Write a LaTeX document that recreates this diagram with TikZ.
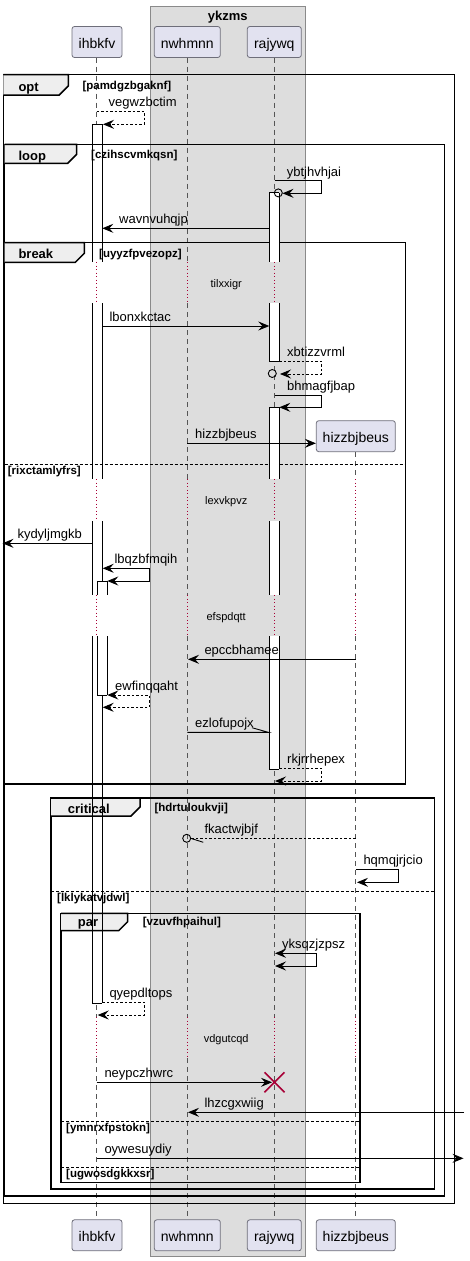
\documentclass[tikz,border=0pt]{standalone}
\usepackage{fontspec}
\setmainfont{Liberation Sans}
\usetikzlibrary{arrows.meta}
\definecolor{partfill}{HTML}{E2E2F0}
\definecolor{partline}{HTML}{6E6E7A}
\definecolor{boxfill}{HTML}{DDDDDD}
\definecolor{boxline}{HTML}{8A8A8A}
\definecolor{lifegray}{HTML}{555555}
\definecolor{delayred}{HTML}{A80036}
\definecolor{tabfill}{HTML}{EEEEEE}

% activation bar pieces: x-left, x-right, y-top, y-bottom
\newcommand\barfillpiece[4]{\fill[white] (#1,#3) rectangle (#2,#4);}
\newcommand\barlinepiece[4]{\draw[barline] (#1,#3) -- (#1,#4) (#2,#3) -- (#2,#4);}
\newcommand\barbothpiece[4]{\barfillpiece{#1}{#2}{#3}{#4}\barlinepiece{#1}{#2}{#3}{#4}}
% horizontal end of an activation bar
\newcommand\barcapline[3]{\draw[barline] (#1,#3) -- (#2,#3);}
\newcommand\skipcap[3]{}
% the long activation of ihbkfv, interrupted by three delays
\newcommand\outerbar{%
  \barpiece{92.3}{102.3}{124.3}{262}
  \barpiece{92.3}{102.3}{303}{479}
  \barpiece{92.3}{102.3}{521}{595}
  \barpiece{92.3}{102.3}{636}{1003}
  \barcap{92.3}{102.3}{124.3}
  \barcap{92.3}{102.3}{1003}}
% group frame: left, top, right, bottom, tab right, tab bottom
\newcommand\grpframe[6]{%
  \draw[frameline] (#1,#2) rectangle (#3,#4);
  \filldraw[frameline, fill=tabfill] (#1,#2) -- (#5,#2) -- (#5,#6-9) -- (#5-9,#6) -- (#1,#6);}
% dashed lifeline, broken by the four delays
\newcommand\lifeline[3]{%
  \draw[life] (#1,#2) -- (#1,262);
  \draw[life] (#1,303) -- (#1,479);
  \draw[life] (#1,521) -- (#1,595);
  \draw[life] (#1,636) -- (#1,1017);
  \draw[life] (#1,1058) -- (#1,#3);}
\newcommand\lifelinelate[3]{%
  \draw[life] (#1,#2) -- (#1,479);
  \draw[life] (#1,521) -- (#1,595);
  \draw[life] (#1,636) -- (#1,1017);
  \draw[life] (#1,1058) -- (#1,#3);}

\begin{document}
\begin{tikzpicture}[x=1pt,y=-1pt,
  frameline/.style={line width=1.5pt, black},
  barline/.style={line width=0.9pt, black},
  life/.style={lifegray, line width=0.8pt, dash pattern=on 5pt off 4pt},
  delayline/.style={delayred, line width=1pt, dash pattern=on 1pt off 2.5pt},
  part/.style={draw=partline, fill=partfill, rounded corners=2.5pt, line width=0.8pt,
    font=\fontsize{14}{16}\selectfont, text height=13.5pt, text depth=1pt,
    inner sep=0pt, minimum height=31pt},
  lbl/.style={anchor=base west, inner sep=0pt, font=\fontsize{13}{15}\selectfont},
  tablbl/.style={anchor=base west, inner sep=0pt, font=\fontsize{13}{15}\selectfont\bfseries},
  cond/.style={anchor=base west, inner sep=0pt, font=\fontsize{11.5}{13}\selectfont\bfseries},
  delaytxt/.style={anchor=base, inner sep=0pt, font=\fontsize{11}{13}\selectfont},
  msg/.style={line width=0.9pt, black},
  ret/.style={msg, dash pattern=on 2.5pt off 2pt},
  arr/.style={-{Stealth[length=11pt,width=9pt,inset=4pt]}},
  arrtwo/.style={{Stealth[length=11pt,width=9pt,inset=4pt]}-{Stealth[length=11pt,width=9pt,inset=4pt]}},
  sep/.style={black, line width=0.9pt, dash pattern=on 3pt off 2pt}
]
\useasboundingbox (0,0) rectangle (469,1261);

% participant box ykzms
\filldraw[fill=boxfill, draw=boxline, line width=0.9pt] (150.3,6) rectangle (305.3,1256);
\node[anchor=base, inner sep=0pt, font=\fontsize{13}{15}\selectfont\bfseries] (boxtitle) at (227.8,20.5) {ykzms};

% lifelines
\lifeline{96.7}{57.5}{1219.3}
\lifeline{187.3}{57.5}{1219.3}
\lifeline{274.5}{57.5}{1219.3}
\lifelinelate{355.7}{452.3}{1219.3}

% delays
\foreach \x in {96.7,187.3,274.5} \draw[delayline] (\x,262) -- (\x,303);
\foreach \x in {96.7,187.3,274.5,355.7} {
  \draw[delayline] (\x,479) -- (\x,521);
  \draw[delayline] (\x,595) -- (\x,636);
  \draw[delayline] (\x,1017) -- (\x,1058);
}
\node[delaytxt] (d1) at (226.2,287) {tilxxigr};
\node[delaytxt] (d2) at (226.2,504.5) {lexvkpvz};
\node[delaytxt] (d3) at (226.2,620) {efspdqtt};
\node[delaytxt] (d4) at (226.2,1042) {vdgutcqd};

% body of the long ihbkfv activation
\let\barpiece\barfillpiece \let\barcap\skipcap
\outerbar

% group frames
\grpframe{3.3}{74.5}{454.3}{1203.3}{68.3}{95}
\grpframe{4.5}{144.3}{444.3}{1196}{76.7}{163.3}
\grpframe{4.5}{242.7}{405.7}{784}{84.3}{262.3}
\draw[sep] (4.5,464.3) -- (405.7,464.3);
\grpframe{51}{798}{434.7}{1189}{140}{816}
\draw[sep] (51,891) -- (434.7,891);
\grpframe{61}{913.3}{360}{1182.7}{127.7}{930.7}
\draw[sep] (61,1121.7) -- (360,1121.7);
\draw[sep] (61,1167.3) -- (360,1167.3);

% outline of the long ihbkfv activation
\let\barpiece\barlinepiece \let\barcap\barcapline
\outerbar

% nested ihbkfv activation
\barbothpiece{97.3}{107.3}{581}{595}
\barbothpiece{97.3}{107.3}{636}{695}
\barcapline{97.3}{107.3}{581}
\barcapline{97.3}{107.3}{695}

% rajywq activations
\barbothpiece{269.3}{279.3}{192.7}{262}
\barbothpiece{269.3}{279.3}{303}{361.7}
\barcapline{269.3}{279.3}{192.7}
\barcapline{269.3}{279.3}{361.7}

\barbothpiece{269.3}{279.3}{407.3}{479}
\barbothpiece{269.3}{279.3}{521}{595}
\barbothpiece{269.3}{279.3}{636}{769}
\barcapline{269.3}{279.3}{407.3}
\barcapline{269.3}{279.3}{769}

% frame labels and conditions
\node[tablbl] (optlbl) at (18.3,91.3) {opt};
\node[cond] (optcond) at (82.3,89.5) {[pamdgzbgaknf]};
\node[tablbl] (looplbl) at (18.3,160) {loop};
\node[cond] (loopcond) at (91,158.3) {[czihscvmkqsn]};
\node[tablbl] (breaklbl) at (18.3,258.8) {break};
\node[cond] (breakcond) at (99,257.3) {[uyyzfpvezopz]};
\node[cond] (breakelse) at (7.7,474.5) {[rixctamlyfrs]};
\node[tablbl] (critlbl) at (67.7,813) {critical};
\node[cond] (critcond) at (154.3,811.5) {[hdrtuloukvji]};
\node[cond] (critelse) at (57,901) {[lklykatvjdwl]};
\node[tablbl] (parlbl) at (77.7,926.5) {par};
\node[cond] (parcond) at (142.7,925) {[vzuvfhpaihul]};
\node[cond] (parelse1) at (66,1131.7) {[ymnrxfpstokn]};
\node[cond] (parelse2) at (66,1177.3) {[ugwosdgkkxsr]};

% message end points
\coordinate (m1a) at (96.7,111.3);   \coordinate (m1b) at (103,124.3);
\coordinate (m2a) at (274.5,180.7);  \coordinate (m2b) at (282.5,193.3);
\coordinate (m3a) at (269.3,228.3);  \coordinate (m3b) at (102.3,228.3);
\coordinate (m4a) at (102.3,326);    \coordinate (m4b) at (269.3,326);
\coordinate (m5a) at (279.3,361.3);  \coordinate (m5b) at (280,374);
\coordinate (m6a) at (274.5,395);    \coordinate (m6b) at (279.3,407.3);
\coordinate (m7a) at (187.3,443.3);
\coordinate (m8a) at (92.3,543.3);   \coordinate (m8b) at (2.5,543.3);
\coordinate (m9a) at (102.7,568.3);  \coordinate (m9b) at (107.3,581);
\coordinate (m10a) at (355.7,659.3); \coordinate (m10b) at (188,659.3);
\coordinate (m11a) at (107.3,695);   \coordinate (m11b) at (102.7,707.3);
\coordinate (m12a) at (187.3,732.3); \coordinate (m12b) at (268.3,732.3);
\coordinate (m13a) at (279.3,768.3); \coordinate (m13b) at (275,781);
\coordinate (m14a) at (355.7,838.3); \coordinate (m14b) at (190.7,838.3);
\coordinate (m15a) at (355.7,869.3); \coordinate (m15b) at (357,882.3);
\coordinate (m16a) at (275,953.3);   \coordinate (m16b) at (275,966);
\coordinate (m17a) at (102.3,1002.3);\coordinate (m17b) at (97.7,1015);
\coordinate (m18a) at (96.7,1082.3); \coordinate (m18b) at (272,1082.3);
\coordinate (m19a) at (464,1112.3);  \coordinate (m19b) at (188,1112.3);
\coordinate (m20a) at (96.7,1158.3); \coordinate (m20b) at (463.5,1158.3);

% created participant
\node[part, minimum width=79pt] (h5) at (355.8,436.2) {hizzbjbeus};

% messages
\draw[ret, arr] (m1a) -- (144.3,111.3) -- (144.3,124.3) -- (m1b);
\node[lbl] (l1) at (108.5,106.5) {vegwzbctim};

\draw[msg, arr] (m2a) -- (321.3,180.7) -- (321.3,193.3) -- (m2b);
\draw[msg] (278.3,192.9) circle[radius=4];
\node[lbl] (l2) at (286.7,176) {ybtjhvhjai};

\draw[msg, arr] (m3a) -- (m3b);
\node[lbl] (l3) at (119,223.5) {wavnvuhqjp};

\draw[msg, arr] (m4a) -- (m4b);
\node[lbl] (l4) at (109.3,321.2) {lbonxkctac};

\draw[ret, arr] (m5a) -- (321.3,361.3) -- (321.3,374) -- (m5b);
\draw[msg] (272.3,373.5) circle[radius=4];
\node[lbl] (l5) at (287,356.5) {xbtizzvrml};

\draw[msg, arr] (m6a) -- (321.3,395) -- (321.3,407.3) -- (m6b);
\node[lbl] (l6) at (287,390.2) {bhmagfjbap};

\draw[msg, arr] (m7a) -- (h5.west |- m7a);
\node[lbl] (l7) at (195,438.5) {hizzbjbeus};

\draw[msg, arr] (m8a) -- (m8b);
\node[lbl] (l8) at (17.3,538.5) {kydyljmgkb};

\draw[msg, arrtwo] (m9a) -- (149.3,568.3) -- (149.3,581) -- (m9b);
\node[lbl] (l9) at (114.3,563.5) {lbqzbfmqih};

\draw[msg, arr] (m10a) -- (m10b);
\node[lbl] (l10) at (204.3,654.5) {epccbhamee};

\draw[ret, arrtwo] (m11a) -- (149.3,695) -- (149.3,707.3) -- (m11b);
\node[lbl] (l11) at (115,690.2) {ewfinqqaht};

\draw[msg] (m12a) -- (m12b) -- (252,727.7);
\node[lbl] (l12) at (195,727.5) {ezlofupojx};

\draw[ret, arr] (m13a) -- (321.3,768.3) -- (321.3,781) -- (m13b);
\node[lbl] (l13) at (287,763.5) {rkjrrhepex};

\draw[ret] (m14a) -- (m14b);
\draw[msg] (m14b) -- (203.3,842.3);
\draw[msg] (186.7,838.3) circle[radius=4];
\node[lbl] (l14) at (204.3,833.5) {fkactwjbjf};

\draw[msg, arr] (m15a) -- (398.3,869.3) -- (398.3,882.3) -- (m15b);
\node[lbl] (l15) at (363.3,864.5) {hqmqjrjcio};

\draw[msg, arrtwo] (m16a) -- (316,953.3) -- (316,966) -- (m16b);
\node[lbl] (l16) at (282,948.5) {yksqzjzpsz};

\draw[ret, arr] (m17a) -- (144.3,1002.3) -- (144.3,1015) -- (m17b);
\node[lbl] (l17) at (109.3,997.5) {qyepdltops};

\draw[msg, arr] (m18a) -- (m18b);
\draw[delayred, line width=1.6pt] (264.5,1072.3) -- (284.5,1092.3) (264.5,1092.3) -- (284.5,1072.3);
\node[lbl] (l18) at (104.3,1077.5) {neypczhwrc};

\draw[msg, arr] (m19a) -- (m19b);
\node[lbl] (l19) at (204.3,1107.5) {lhzcgxwiig};

\draw[msg, arr] (m20a) -- (m20b);
\node[lbl] (l20) at (104.3,1153.5) {oywesuydiy};

% participant heads and feet
\node[part, minimum width=50pt] (h1) at (97,42) {ihbkfv};
\node[part, minimum width=66pt] (h2) at (187.3,42) {nwhmnn};
\node[part, minimum width=54pt] (h3) at (274.3,42) {rajywq};
\node[part, minimum width=50pt] (t1) at (97,1235.3) {ihbkfv};
\node[part, minimum width=66pt] (t2) at (187.3,1235.3) {nwhmnn};
\node[part, minimum width=54pt] (t3) at (274.3,1235.3) {rajywq};
\node[part, minimum width=79pt] (t4) at (355.8,1235.3) {hizzbjbeus};
\end{tikzpicture}
\end{document}
